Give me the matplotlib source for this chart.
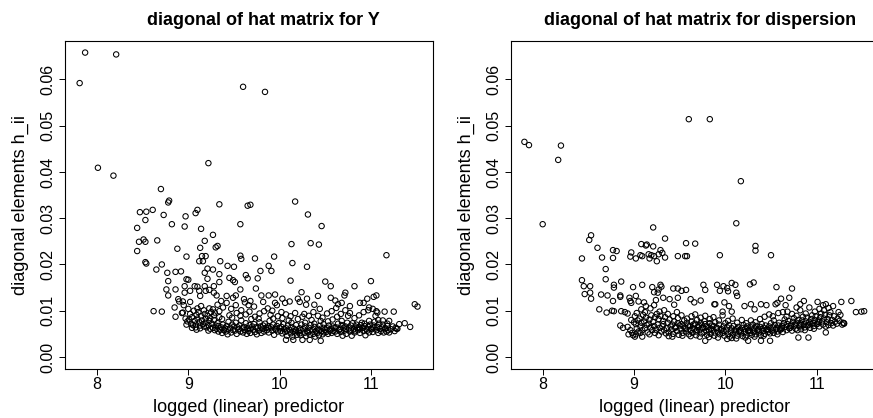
import numpy as np
import matplotlib
matplotlib.use("Agg")
import matplotlib.pyplot as plt

plt.rcParams['font.family'] = ['Liberation Sans', 'DejaVu Sans']

# leverage values h_ii against the fitted linear predictor (log scale)
# mean model: isolated points first, then the dense band
hat_y_pts = [
    (7.81, 0.0592), (7.87, 0.0658), (8.21, 0.0654), (8.01, 0.0409), (8.18, 0.0392),
    (9.22, 0.0419), (9.60, 0.0584), (9.84, 0.0573), (8.70, 0.0363), (8.47, 0.0313),
    (8.54, 0.0314), (8.61, 0.0318), (8.73, 0.0307), (8.44, 0.0279), (8.53, 0.0296),
    (8.78, 0.0334), (8.79, 0.0338), (8.82, 0.0287), (8.46, 0.0249), (8.51, 0.0254),
    (8.53, 0.0249), (8.66, 0.0252), (8.44, 0.0229), (8.53, 0.0205), (8.54, 0.0202),
    (8.65, 0.0189), (8.71, 0.0200), (8.97, 0.0304), (8.96, 0.0282), (8.88, 0.0234),
    (8.98, 0.0217), (9.08, 0.0311), (9.10, 0.0318), (9.14, 0.0277), (9.27, 0.0264),
    (9.34, 0.0330), (9.18, 0.0251), (9.30, 0.0237), (9.32, 0.0240), (9.13, 0.0236),
    (9.15, 0.0218), (9.19, 0.0218), (9.12, 0.0207), (9.16, 0.0207), (9.35, 0.0207),
    (9.27, 0.0189), (9.43, 0.0197), (9.21, 0.0191), (9.18, 0.0182), (9.21, 0.0169),
    (9.34, 0.0179), (9.50, 0.0195), (9.65, 0.0327), (9.68, 0.0329), (9.57, 0.0287),
    (9.57, 0.0219), (9.58, 0.0212), (9.73, 0.0213), (9.63, 0.0177), (9.65, 0.0170),
    (9.76, 0.0170), (9.79, 0.0186), (9.88, 0.0197), (9.91, 0.0186), (9.94, 0.0217),
    (10.17, 0.0336), (10.13, 0.0244), (10.14, 0.0203), (10.12, 0.0165), (10.31, 0.0308),
    (10.34, 0.0246), (10.43, 0.0243), (10.46, 0.0283), (10.30, 0.0195), (10.50, 0.0163),
    (10.56, 0.0153), (10.82, 0.0153), (11.00, 0.0164), (11.17, 0.0220), (11.06, 0.0133),
    (11.03, 0.0130), (11.48, 0.0114), (11.51, 0.0109), (10.72, 0.0139), (10.71, 0.0133),
    (8.62, 0.0099), (8.71, 0.0098), (8.85, 0.0107), (8.86, 0.0087), (8.77, 0.0182),
    (8.86, 0.0184), (8.92, 0.0185), (8.78, 0.0164), (8.76, 0.0146), (8.78, 0.0133),
    (8.86, 0.0146), (8.89, 0.0125), (8.90, 0.0120), (8.94, 0.0120), (8.94, 0.0096),
    (8.96, 0.0153), (8.96, 0.0139), (8.98, 0.0168), (9.00, 0.0167), (9.02, 0.0143),
    (9.02, 0.0119), (9.07, 0.0153), (9.10, 0.0152), (9.12, 0.0143), (9.13, 0.0132),
    (9.18, 0.0153), (9.19, 0.0143), (9.23, 0.0145), (9.28, 0.0153), (9.28, 0.0139),
    (9.34, 0.0162), (9.31, 0.0133), (9.42, 0.0132), (9.45, 0.0171), (9.49, 0.0166),
    (9.51, 0.0162), (9.52, 0.0133), (9.57, 0.0146), (9.61, 0.0125), (9.68, 0.0121),
    (9.66, 0.0112), (9.80, 0.0133), (9.74, 0.0148), (9.88, 0.0133), (9.95, 0.0135),
    (9.95, 0.0117), (10.03, 0.0126), (10.06, 0.0117), (10.11, 0.0120), (10.24, 0.0140),
    (10.20, 0.0126), (10.22, 0.0119), (10.30, 0.0126), (10.29, 0.0113), (10.38, 0.0113),
    (10.42, 0.0132), (10.56, 0.0128), (10.61, 0.0122), (10.64, 0.0114), (10.68, 0.0117),
    (10.77, 0.0110), (10.88, 0.0117), (10.92, 0.0117), (10.96, 0.0126), (10.98, 0.0107),
    (11.06, 0.0099), (11.15, 0.0098), (11.25, 0.0098), (11.37, 0.0073), (11.43, 0.0065),
    (11.28, 0.0061), (11.20, 0.0078), (10.15, 0.0037), (10.07, 0.0037), (10.25, 0.0037),
    (10.45, 0.0035), (10.33, 0.0037),
    (8.93, 0.0095), (8.97, 0.0083), (8.99, 0.0077), (8.98, 0.0070), (8.95, 0.0112), (9.00, 0.0104),
    (9.01, 0.0081), (9.03, 0.0072), (9.04, 0.0063), (9.02, 0.0093), (9.05, 0.0069), (9.06, 0.0100), (9.04, 0.0086),
    (9.07, 0.0078), (9.08, 0.0064), (9.09, 0.0091), (9.08, 0.0070), (9.10, 0.0083), (9.09, 0.0059), (9.10, 0.0105),
    (9.12, 0.0075), (9.13, 0.0068), (9.11, 0.0097), (9.14, 0.0088), (9.13, 0.0062), (9.15, 0.0079), (9.14, 0.0110),
    (9.16, 0.0071), (9.17, 0.0066), (9.18, 0.0093), (9.19, 0.0083), (9.17, 0.0101), (9.20, 0.0064), (9.19, 0.0074),
    (9.21, 0.0089), (9.22, 0.0069), (9.23, 0.0078), (9.24, 0.0061), (9.25, 0.0097), (9.23, 0.0105), (9.24, 0.0084), (9.22, 0.0057),
    (9.26, 0.0072), (9.27, 0.0063), (9.28, 0.0090), (9.29, 0.0058), (9.28, 0.0080), (9.30, 0.0068), (9.27, 0.0103), (9.29, 0.0096),
    (9.31, 0.0061), (9.32, 0.0073), (9.33, 0.0055), (9.34, 0.0086), (9.33, 0.0067), (9.35, 0.0059), (9.34, 0.0099), (9.32, 0.0113),
    (9.36, 0.0064), (9.37, 0.0052), (9.38, 0.0070), (9.39, 0.0058), (9.37, 0.0082), (9.40, 0.0062), (9.38, 0.0107), (9.36, 0.0121),
    (9.41, 0.0055), (9.42, 0.0067), (9.43, 0.0049), (9.44, 0.0076), (9.43, 0.0060), (9.45, 0.0090), (9.42, 0.0117),
    (9.46, 0.0063), (9.47, 0.0053), (9.48, 0.0070), (9.49, 0.0058), (9.48, 0.0085), (9.50, 0.0066), (9.47, 0.0104), (9.49, 0.0128),
    (9.51, 0.0057), (9.52, 0.0074), (9.53, 0.0050), (9.54, 0.0064), (9.53, 0.0095), (9.55, 0.0060), (9.52, 0.0112),
    (9.56, 0.0068), (9.57, 0.0055), (9.58, 0.0079), (9.59, 0.0062), (9.58, 0.0101), (9.60, 0.0053), (9.57, 0.0089),
    (9.61, 0.0065), (9.62, 0.0058), (9.63, 0.0073), (9.64, 0.0050), (9.63, 0.0092), (9.65, 0.0062), (9.62, 0.0118),
    (9.66, 0.0056), (9.67, 0.0069), (9.68, 0.0061), (9.69, 0.0082), (9.68, 0.0052), (9.70, 0.0066), (9.67, 0.0098),
    (9.71, 0.0059), (9.72, 0.0071), (9.73, 0.0054), (9.74, 0.0064), (9.73, 0.0087), (9.75, 0.0049), (9.72, 0.0109),
    (9.76, 0.0063), (9.77, 0.0057), (9.78, 0.0075), (9.79, 0.0066), (9.78, 0.0094), (9.80, 0.0052), (9.77, 0.0083),
    (9.81, 0.0061), (9.82, 0.0068), (9.83, 0.0055), (9.84, 0.0072), (9.83, 0.0099), (9.85, 0.0063), (9.82, 0.0119),
    (9.86, 0.0058), (9.87, 0.0066), (9.88, 0.0053), (9.89, 0.0078), (9.88, 0.0062), (9.90, 0.0091), (9.87, 0.0105),
    (9.91, 0.0064), (9.92, 0.0057), (9.93, 0.0070), (9.94, 0.0048), (9.93, 0.0083), (9.95, 0.0061), (9.92, 0.0100),
    (9.96, 0.0059), (9.97, 0.0067), (9.98, 0.0055), (9.99, 0.0073), (9.98, 0.0088), (10.00, 0.0062), (9.97, 0.0112),
    (10.01, 0.0056), (10.02, 0.0065), (10.03, 0.0051), (10.04, 0.0071), (10.03, 0.0084), (10.05, 0.0060), (10.02, 0.0097),
    (10.06, 0.0054), (10.07, 0.0062), (10.08, 0.0046), (10.09, 0.0068), (10.08, 0.0057), (10.10, 0.0079), (10.07, 0.0092),
    (10.11, 0.0058), (10.12, 0.0051), (10.13, 0.0065), (10.14, 0.0044), (10.13, 0.0074), (10.15, 0.0055), (10.12, 0.0088),
    (10.16, 0.0061), (10.17, 0.0053), (10.18, 0.0069), (10.19, 0.0048), (10.18, 0.0057), (10.20, 0.0082), (10.17, 0.0095),
    (10.21, 0.0055), (10.22, 0.0062), (10.23, 0.0047), (10.24, 0.0070), (10.23, 0.0058), (10.25, 0.0087), (10.22, 0.0051),
    (10.26, 0.0060), (10.27, 0.0052), (10.28, 0.0066), (10.29, 0.0045), (10.28, 0.0074), (10.30, 0.0056), (10.27, 0.0093),
    (10.31, 0.0053), (10.32, 0.0063), (10.33, 0.0048), (10.34, 0.0069), (10.33, 0.0057), (10.35, 0.0080), (10.32, 0.0089),
    (10.36, 0.0058), (10.37, 0.0050), (10.38, 0.0065), (10.39, 0.0044), (10.38, 0.0072), (10.40, 0.0055), (10.37, 0.0097),
    (10.41, 0.0052), (10.42, 0.0061), (10.43, 0.0047), (10.44, 0.0067), (10.43, 0.0058), (10.45, 0.0078), (10.42, 0.0089), (10.44, 0.0104),
    (10.46, 0.0056), (10.47, 0.0049), (10.48, 0.0063), (10.49, 0.0053), (10.48, 0.0071), (10.50, 0.0059), (10.47, 0.0085),
    (10.51, 0.0054), (10.52, 0.0062), (10.53, 0.0050), (10.54, 0.0068), (10.53, 0.0077), (10.55, 0.0057), (10.52, 0.0094),
    (10.56, 0.0060), (10.57, 0.0052), (10.58, 0.0066), (10.59, 0.0056), (10.58, 0.0081), (10.60, 0.0063), (10.57, 0.0099),
    (10.61, 0.0055), (10.62, 0.0064), (10.63, 0.0050), (10.64, 0.0072), (10.63, 0.0087), (10.65, 0.0058), (10.62, 0.0106),
    (10.66, 0.0061), (10.67, 0.0054), (10.68, 0.0069), (10.69, 0.0046), (10.68, 0.0078), (10.70, 0.0063), (10.67, 0.0093),
    (10.71, 0.0057), (10.72, 0.0066), (10.73, 0.0050), (10.74, 0.0074), (10.73, 0.0060), (10.75, 0.0089), (10.72, 0.0101),
    (10.76, 0.0062), (10.77, 0.0055), (10.78, 0.0068), (10.79, 0.0046), (10.78, 0.0059), (10.80, 0.0073), (10.77, 0.0095),
    (10.81, 0.0060), (10.82, 0.0053), (10.83, 0.0066), (10.84, 0.0070), (10.83, 0.0057), (10.85, 0.0063), (10.82, 0.0084),
    (10.86, 0.0058), (10.87, 0.0064), (10.88, 0.0052), (10.89, 0.0069), (10.88, 0.0061), (10.90, 0.0074), (10.87, 0.0090),
    (10.91, 0.0063), (10.92, 0.0056), (10.93, 0.0067), (10.94, 0.0047), (10.93, 0.0072), (10.95, 0.0060), (10.92, 0.0097),
    (10.96, 0.0057), (10.97, 0.0065), (10.98, 0.0053), (10.99, 0.0070), (10.98, 0.0078), (11.00, 0.0061), (10.97, 0.0101),
    (11.01, 0.0060), (11.02, 0.0054), (11.03, 0.0068), (11.04, 0.0076), (11.03, 0.0063), (11.05, 0.0089), (11.02, 0.0104),
    (11.06, 0.0058), (11.07, 0.0065), (11.08, 0.0052), (11.09, 0.0072), (11.08, 0.0080), (11.10, 0.0061), (11.07, 0.0096),
    (11.11, 0.0056), (11.12, 0.0064), (11.13, 0.0070), (11.14, 0.0053), (11.13, 0.0079), (11.15, 0.0060),
    (11.16, 0.0062), (11.17, 0.0055), (11.18, 0.0067), (11.19, 0.0058), (11.18, 0.0072), (11.20, 0.0053),
    (11.22, 0.0060), (11.24, 0.0066), (11.26, 0.0056), (11.27, 0.0063), (11.29, 0.0061), (11.31, 0.0071),
]

# dispersion model
hat_disp_pts = [
    (7.80, 0.0465), (7.85, 0.0458), (8.20, 0.0457), (8.17, 0.0426), (8.00, 0.0287),
    (9.60, 0.0514), (9.83, 0.0514), (10.17, 0.0380), (10.12, 0.0289), (9.21, 0.0280),
    (9.34, 0.0256), (8.53, 0.0263), (8.51, 0.0253), (8.60, 0.0236), (8.43, 0.0213),
    (8.65, 0.0215), (8.77, 0.0231), (8.81, 0.0229), (8.77, 0.0214), (8.69, 0.0190),
    (8.69, 0.0168), (8.78, 0.0156), (8.78, 0.0150), (8.86, 0.0163), (8.43, 0.0166),
    (8.45, 0.0153), (8.52, 0.0153), (8.46, 0.0136), (8.52, 0.0139), (8.53, 0.0126),
    (8.64, 0.0135), (8.71, 0.0133), (8.77, 0.0121), (8.85, 0.0133), (8.85, 0.0130),
    (8.62, 0.0103), (8.70, 0.0096), (8.76, 0.0100), (8.78, 0.0099), (8.85, 0.0068),
    (8.88, 0.0063), (8.86, 0.0099), (8.90, 0.0097), (8.93, 0.0094), (8.95, 0.0128),
    (8.96, 0.0121), (8.97, 0.0117), (8.99, 0.0151), (8.97, 0.0226), (8.96, 0.0217),
    (9.02, 0.0213), (9.07, 0.0220), (9.08, 0.0244), (9.09, 0.0218), (9.13, 0.0241),
    (9.14, 0.0243), (9.16, 0.0222), (9.17, 0.0213), (9.19, 0.0220), (9.22, 0.0218),
    (9.21, 0.0239), (9.27, 0.0222), (9.29, 0.0231), (9.31, 0.0225), (9.34, 0.0215),
    (9.25, 0.0207), (9.09, 0.0156), (9.20, 0.0151), (9.22, 0.0140), (9.27, 0.0146),
    (9.29, 0.0156), (9.30, 0.0152), (9.26, 0.0139), (9.32, 0.0128), (9.43, 0.0148),
    (9.48, 0.0148), (9.52, 0.0143), (9.57, 0.0145), (9.48, 0.0128), (9.48, 0.0218),
    (9.56, 0.0218), (9.58, 0.0218), (9.57, 0.0246), (9.67, 0.0245), (9.94, 0.0220),
    (9.76, 0.0156), (9.78, 0.0145), (9.73, 0.0122), (9.91, 0.0156), (9.98, 0.0153),
    (9.94, 0.0143), (10.02, 0.0149), (10.03, 0.0142), (10.07, 0.0160), (10.11, 0.0156),
    (10.12, 0.0139), (10.13, 0.0132), (10.27, 0.0157), (10.31, 0.0161), (10.33, 0.0240),
    (10.33, 0.0230), (10.50, 0.0220), (10.56, 0.0151), (10.73, 0.0148), (10.70, 0.0128),
    (10.55, 0.0114), (10.57, 0.0117), (10.28, 0.0114), (10.39, 0.0114), (10.32, 0.0103),
    (9.88, 0.0114), (9.89, 0.0114), (9.97, 0.0098), (10.07, 0.0098), (11.27, 0.0119),
    (11.38, 0.0121), (11.43, 0.0097), (11.49, 0.0098), (11.52, 0.0099), (11.30, 0.0073),
    (11.29, 0.0074), (11.01, 0.0119), (11.10, 0.0114), (10.86, 0.0121), (10.82, 0.0114),
    (11.24, 0.0097), (10.80, 0.0042), (10.91, 0.0042), (11.10, 0.0053), (10.25, 0.0035),
    (10.39, 0.0035), (10.49, 0.0035), (9.78, 0.0035), (9.01, 0.0044), (9.09, 0.0044),
    (8.94, 0.0049),
    (9.02, 0.0132), (9.05, 0.0120), (9.11, 0.0118), (9.24, 0.0123), (9.39, 0.0125),
    (9.44, 0.0113), (9.62, 0.0125), (9.66, 0.0118), (9.99, 0.0118), (10.04, 0.0110),
    (10.21, 0.0110), (10.45, 0.0112), (10.61, 0.0126), (10.66, 0.0112), (10.78, 0.0107),
    (8.93, 0.0065), (8.96, 0.0058), (8.98, 0.0052), (8.99, 0.0047), (8.97, 0.0080), (9.00, 0.0075),
    (9.01, 0.0088), (9.02, 0.0071), (9.03, 0.0062), (9.04, 0.0079), (9.05, 0.0055), (9.03, 0.0095), (9.02, 0.0049),
    (9.06, 0.0083), (9.07, 0.0066), (9.08, 0.0074), (9.09, 0.0058), (9.10, 0.0091), (9.08, 0.0103), (9.07, 0.0052),
    (9.11, 0.0077), (9.12, 0.0062), (9.13, 0.0085), (9.14, 0.0069), (9.15, 0.0053), (9.13, 0.0110), (9.12, 0.0097),
    (9.16, 0.0072), (9.17, 0.0081), (9.18, 0.0064), (9.19, 0.0090), (9.20, 0.0058), (9.18, 0.0105), (9.17, 0.0049),
    (9.21, 0.0076), (9.22, 0.0067), (9.23, 0.0086), (9.24, 0.0059), (9.25, 0.0093), (9.23, 0.0052), (9.22, 0.0112),
    (9.26, 0.0070), (9.27, 0.0082), (9.28, 0.0063), (9.29, 0.0089), (9.30, 0.0055), (9.28, 0.0098), (9.27, 0.0047),
    (9.31, 0.0066), (9.32, 0.0078), (9.33, 0.0058), (9.34, 0.0086), (9.35, 0.0051), (9.33, 0.0101), (9.32, 0.0071),
    (9.36, 0.0062), (9.37, 0.0074), (9.38, 0.0053), (9.39, 0.0081), (9.40, 0.0066), (9.38, 0.0045), (9.37, 0.0093),
    (9.41, 0.0059), (9.42, 0.0070), (9.43, 0.0050), (9.44, 0.0077), (9.45, 0.0063), (9.43, 0.0088), (9.42, 0.0044),
    (9.46, 0.0065), (9.47, 0.0056), (9.48, 0.0073), (9.49, 0.0048), (9.50, 0.0068), (9.48, 0.0084), (9.47, 0.0097),
    (9.51, 0.0060), (9.52, 0.0071), (9.53, 0.0052), (9.54, 0.0066), (9.55, 0.0079), (9.53, 0.0046), (9.52, 0.0090),
    (9.56, 0.0063), (9.57, 0.0055), (9.58, 0.0074), (9.59, 0.0068), (9.60, 0.0049), (9.58, 0.0083), (9.57, 0.0061),
    (9.61, 0.0067), (9.62, 0.0058), (9.63, 0.0076), (9.64, 0.0052), (9.65, 0.0070), (9.63, 0.0088), (9.62, 0.0045), (9.64, 0.0062),
    (9.66, 0.0061), (9.67, 0.0072), (9.68, 0.0055), (9.69, 0.0080), (9.70, 0.0065), (9.68, 0.0047), (9.67, 0.0092), (9.69, 0.0058),
    (9.71, 0.0068), (9.72, 0.0059), (9.73, 0.0074), (9.74, 0.0051), (9.75, 0.0063), (9.73, 0.0085), (9.72, 0.0044), (9.74, 0.0070),
    (9.76, 0.0062), (9.77, 0.0054), (9.78, 0.0071), (9.79, 0.0066), (9.80, 0.0048), (9.78, 0.0089), (9.77, 0.0077), (9.79, 0.0057),
    (9.81, 0.0065), (9.82, 0.0058), (9.83, 0.0073), (9.84, 0.0050), (9.85, 0.0068), (9.83, 0.0082), (9.82, 0.0043), (9.84, 0.0061),
    (9.86, 0.0059), (9.87, 0.0067), (9.88, 0.0053), (9.89, 0.0075), (9.90, 0.0062), (9.88, 0.0046), (9.87, 0.0086),
    (9.91, 0.0063), (9.92, 0.0055), (9.93, 0.0070), (9.94, 0.0049), (9.95, 0.0058), (9.93, 0.0079), (9.92, 0.0042),
    (9.96, 0.0060), (9.97, 0.0052), (9.98, 0.0066), (9.99, 0.0046), (10.00, 0.0073), (9.98, 0.0056), (9.97, 0.0090),
    (10.01, 0.0057), (10.02, 0.0064), (10.03, 0.0050), (10.04, 0.0069), (10.05, 0.0044), (10.03, 0.0078), (10.02, 0.0039),
    (10.06, 0.0055), (10.07, 0.0062), (10.08, 0.0048), (10.09, 0.0067), (10.10, 0.0058), (10.08, 0.0083), (10.07, 0.0041),
    (10.11, 0.0053), (10.12, 0.0060), (10.13, 0.0046), (10.14, 0.0065), (10.15, 0.0056), (10.13, 0.0074), (10.12, 0.0040),
    (10.16, 0.0058), (10.17, 0.0051), (10.18, 0.0063), (10.19, 0.0045), (10.20, 0.0069), (10.18, 0.0080), (10.17, 0.0055),
    (10.21, 0.0054), (10.22, 0.0061), (10.23, 0.0047), (10.24, 0.0066), (10.25, 0.0057), (10.23, 0.0073), (10.22, 0.0042),
    (10.26, 0.0059), (10.27, 0.0052), (10.28, 0.0064), (10.29, 0.0048), (10.30, 0.0070), (10.28, 0.0079), (10.27, 0.0056),
    (10.31, 0.0055), (10.32, 0.0062), (10.33, 0.0049), (10.34, 0.0067), (10.35, 0.0058), (10.33, 0.0075), (10.32, 0.0044),
    (10.36, 0.0060), (10.37, 0.0053), (10.38, 0.0065), (10.39, 0.0047), (10.40, 0.0071), (10.38, 0.0082), (10.37, 0.0057),
    (10.41, 0.0056), (10.42, 0.0063), (10.43, 0.0050), (10.44, 0.0068), (10.45, 0.0059), (10.43, 0.0087), (10.42, 0.0046),
    (10.46, 0.0061), (10.47, 0.0054), (10.48, 0.0066), (10.49, 0.0051), (10.50, 0.0073), (10.48, 0.0092), (10.47, 0.0058),
    (10.51, 0.0057), (10.52, 0.0064), (10.53, 0.0052), (10.54, 0.0069), (10.55, 0.0060), (10.53, 0.0079), (10.52, 0.0088),
    (10.56, 0.0062), (10.57, 0.0055), (10.58, 0.0068), (10.59, 0.0074), (10.60, 0.0059), (10.58, 0.0095), (10.57, 0.0049),
    (10.61, 0.0060), (10.62, 0.0067), (10.63, 0.0054), (10.64, 0.0073), (10.65, 0.0081), (10.63, 0.0097), (10.62, 0.0063),
    (10.66, 0.0065), (10.67, 0.0058), (10.68, 0.0071), (10.69, 0.0078), (10.70, 0.0062), (10.68, 0.0098), (10.67, 0.0087),
    (10.71, 0.0063), (10.72, 0.0070), (10.73, 0.0057), (10.74, 0.0076), (10.75, 0.0084), (10.73, 0.0093), (10.72, 0.0067),
    (10.76, 0.0068), (10.77, 0.0061), (10.78, 0.0074), (10.79, 0.0058), (10.80, 0.0080), (10.78, 0.0089), (10.77, 0.0070),
    (10.81, 0.0066), (10.82, 0.0073), (10.83, 0.0060), (10.84, 0.0079), (10.85, 0.0087), (10.83, 0.0069), (10.82, 0.0101),
    (10.86, 0.0071), (10.87, 0.0064), (10.88, 0.0077), (10.89, 0.0085), (10.90, 0.0068), (10.88, 0.0094), (10.87, 0.0058),
    (10.91, 0.0069), (10.92, 0.0076), (10.93, 0.0063), (10.94, 0.0082), (10.95, 0.0090), (10.93, 0.0072), (10.92, 0.0107),
    (10.96, 0.0074), (10.97, 0.0067), (10.98, 0.0080), (10.99, 0.0088), (11.00, 0.0071), (10.98, 0.0098), (10.97, 0.0061),
    (11.01, 0.0072), (11.02, 0.0079), (11.03, 0.0066), (11.04, 0.0086), (11.05, 0.0094), (11.03, 0.0104), (11.02, 0.0076),
    (11.06, 0.0077), (11.07, 0.0070), (11.08, 0.0083), (11.09, 0.0091), (11.10, 0.0066), (11.08, 0.0101), (11.07, 0.0112),
    (11.11, 0.0075), (11.12, 0.0082), (11.13, 0.0069), (11.14, 0.0090), (11.15, 0.0097), (11.13, 0.0106),
    (11.16, 0.0073), (11.17, 0.0080), (11.18, 0.0068), (11.19, 0.0088), (11.20, 0.0076), (11.18, 0.0110),
    (11.22, 0.0072), (11.23, 0.0083), (11.25, 0.0078), (11.26, 0.0091), (11.28, 0.0070), (11.30, 0.0072),
]

titles = ['diagonal of hat matrix for Y', 'diagonal of hat matrix for dispersion']
title_x = [0.54, 0.514]
xlab = 'logged (linear) predictor'
ylab = 'diagonal elements h_ii'
x_ticks = [8, 9, 10, 11]
y_ticks = [0.00, 0.01, 0.02, 0.03, 0.04, 0.05, 0.06]

fig = plt.figure(figsize=(8.73, 4.18), dpi=100)
ax1 = fig.add_axes([0.0745, 0.1172, 0.4215, 0.7847])
ax2 = fig.add_axes([0.585, 0.1172, 0.4216, 0.7847])

for ax, pts, title, tx in zip([ax1, ax2], [hat_y_pts, hat_disp_pts], titles, title_x):
    pts = np.array(pts)
    ax.scatter(pts[:, 0], pts[:, 1], s=15, facecolors='none', edgecolors='black',
               linewidths=0.75)
    ax.set_xlim(7.65, 11.68)
    ax.set_ylim(-0.0026, 0.0683)
    ax.set_xticks(x_ticks)
    ax.set_yticks(y_ticks)
    ax.set_yticklabels(['%.2f' % v for v in y_ticks], rotation=90, va='center')
    ax.tick_params(direction='out', length=4, width=0.7, labelsize=11.5, pad=2)
    ax.tick_params(axis='y', pad=3)
    for sp in ax.spines.values():
        sp.set_linewidth(0.8)
    ax.set_xlabel(xlab, fontsize=13)
    ax.set_ylabel(ylab, fontsize=13)
    ax.xaxis.set_label_coords(0.5, -0.116)
    ax.xaxis.label.set_va('center')
    ax.yaxis.set_label_coords(-0.12, 0.5)
    ax.yaxis.label.set_va('center')
    ax.text(tx, 1.064, title, transform=ax.transAxes, ha='center', va='center',
            fontsize=13, fontweight='bold')

fig.savefig('out.png', dpi=100)
